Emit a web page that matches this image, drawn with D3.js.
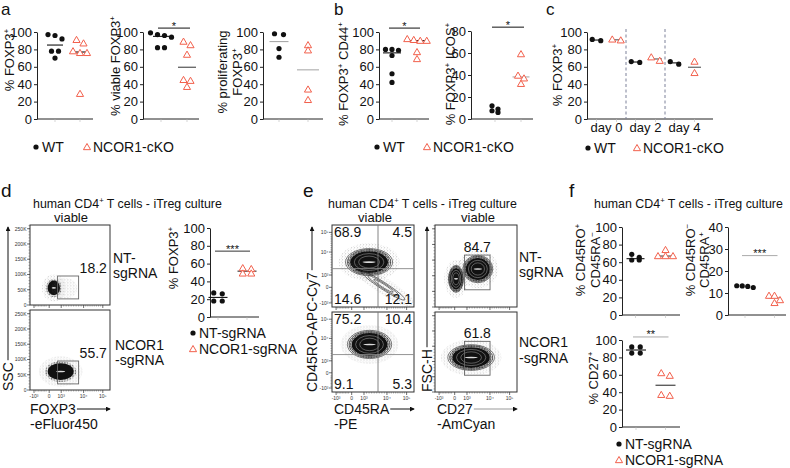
<!DOCTYPE html>
<html>
<head>
<meta charset="utf-8">
<script src="https://cdn.jsdelivr.net/npm/d3@7"></script>
<style>
  body { margin: 0; background: #fff; }
  svg { font-family: "Liberation Sans", Arial, sans-serif; }
</style>
</head>
<body>
<div id="chart"></div>
<script>
// ---------- data ----------
const mouseGroups = ["WT", "NCOR1-cKO"];
const humanGroups = ["NT-sgRNA", "NCOR1-sgRNA"];

// a
const foxp3WT = [97, 92, 96, 78, 78, 70];
const foxp3KO = [87, 91, 78, 76, 76, 29];
const viableWT = [99, 97, 96, 94, 82, 82];
const viableKO = [89, 85, 74, 45, 44, 37];
const prolifWT = [97, 98, 81, 71];
const prolifKO = [85, 79, 34, 22];
// b
const cd44WT = [80, 79, 80, 73, 52, 42];
const cd44KO = [91, 92, 90, 90, 77, 69];
const icosWT = [6, 9, 12, 7.5];
const icosKO = [59, 39.5, 37, 32];
// c
const days = ["day 0", "day 2", "day 4"];
const dayWT = [[90, 91.5], [65, 66], [63, 66]];
const dayKO = [[90.5, 91.5], [67, 71], [66, 53]];
// d
const hFoxp3NT = [26, 27, 18, 18];
const hFoxp3KO = [55, 54, 49, 49];
// f
const roPosNT = [62.5, 65.5, 69, 62.5];
const roPosKO = [67, 74, 67, 67];
const raPosNT = [12.5, 13.3, 13, 13.2];
const raPosKO = [8.8, 8.8, 5.5, 6.8];
const cd27NT = [92, 92, 85, 85];
const cd27KO = [59, 62, 36, 37];

// flow gates / percentages
const foxp3GatePct = [18.2, 55.7];
const quadPct = [[68.9, 4.5, 14.6, 12.1], [75.2, 10.4, 9.1, 5.3]];
const cd27GatePct = [84.7, 61.8];
const foxp3Gate = [700, 8000, 20000, 95000];      // FOXP3 lo/hi, SSC lo/hi
const cd45Split = [6500, 3500];                   // CD45RA, CD45RO quadrant split
const cd27Gate = [800, 10500, 55000, 166000];     // CD27 lo/hi, FSC lo/hi
// cell populations [xLo, xHi, yLo, yHi] in channel units
const foxp3Pops = [[[-100, 900, 32000, 80000], [700, 5000, 38000, 72000]], [[-100, 6000, 33000, 88000]]];
const cd45Pops = [[[-100, 15000, 1800, 14000], [840, 92000, -800, 2200]], [[0, 12000, 3000, 35000]]];
const cd27Pops = [[[900, 10000, 86000, 157000], [-300, 600, 55000, 125000]], [[-150, 10000, 79000, 147000]]];

const biexTicks = [-1000, 0, 1000, 1e4, 1e5];
const biexLabels = ["-10³", "0", "10³", "10⁴", "10⁵"];
const sscTicks = [0, 50000, 100000, 150000, 200000, 250000];
const sscLabels = ["0", "50K", "100K", "150K", "200K", "250K"];

// ---------- setup ----------
const FONT = '"Liberation Sans", Arial, sans-serif';
const koColor = "#f2604c";
const biexDomain = [-1300, -1000, 0, 1000, 1e4, 1e5, 262144];
const biexFrac = [0, 0.05, 0.24, 0.39, 0.67, 0.91, 1];

const svg = d3.select("#chart").append("svg").attr("width", 790).attr("height", 468);
const defs = svg.append("defs");

const sp1 = defs.append("pattern").attr("id", "speckle").attr("width", 3).attr("height", 3)
  .attr("patternUnits", "userSpaceOnUse");
sp1.append("circle").attr("cx", 0.7).attr("cy", 0.8).attr("r", 0.4).attr("fill", "#555");
sp1.append("circle").attr("cx", 2.2).attr("cy", 2.1).attr("r", 0.3).attr("fill", "#888");
const sp2 = defs.append("pattern").attr("id", "speckle2").attr("width", 1.6).attr("height", 1.6)
  .attr("patternUnits", "userSpaceOnUse");
sp2.append("circle").attr("cx", 0.5).attr("cy", 0.5).attr("r", 0.45).attr("fill", "#333");

defs.append("marker").attr("id", "arrow").attr("viewBox", "0 0 6 6").attr("refX", 5).attr("refY", 3)
  .attr("markerWidth", 5).attr("markerHeight", 5).attr("orient", "auto")
  .append("path").attr("d", "M0,0L6,3L0,6Z").attr("fill", "#111");

// text with ^{superscript} parts
function rich(t, str, fs) {
  const sh = fs * 0.38;
  let up = false;
  str.split(/(\^\{[^}]*\})/).forEach(s => {
    if (!s) return;
    if (s.startsWith("^{")) {
      t.append("tspan").attr("dy", -sh).attr("font-size", fs * 0.62).text(s.slice(2, -1));
      up = true;
    } else {
      t.append("tspan").attr("dy", up ? sh : 0).text(s);
      up = false;
    }
  });
  return t;
}

function text(x, y, str, fs, anchor) {
  const t = svg.append("text").attr("x", x).attr("y", y).attr("font-size", fs)
    .attr("fill", "#111").attr("text-anchor", anchor || "start");
  return rich(t, str, fs);
}

function dot(g, x, y) {
  g.append("circle").attr("cx", x).attr("cy", y).attr("r", 2.6).attr("fill", "#111");
}
function tri(g, x, y) {
  g.append("path").attr("d", d3.symbol(d3.symbolTriangle, 22)())
    .attr("transform", `translate(${x},${y + 0.6})`)
    .attr("fill", "#fff").attr("stroke", koColor).attr("stroke-width", 1);
}

// arrange points of one group in rows like a scatter dot plot
function swarm(vals, y, gap) {
  const pts = vals.map(v => ({ v, py: y(v) })).sort((a, b) => a.py - b.py);
  const rows = [];
  pts.forEach(p => {
    const r = rows[rows.length - 1];
    if (r && p.py - r[0].py < 4.6) r.push(p); else rows.push([p]);
  });
  rows.forEach(r => r.forEach((p, i) => { p.dx = (i - (r.length - 1) / 2) * gap; }));
  return pts;
}

function styleAxis(a) {
  a.attr("font-family", FONT);
  a.select(".domain").attr("stroke", "#222");
  a.selectAll(".tick line").attr("stroke", "#222");
  a.selectAll("text").attr("font-size", 13).attr("fill", "#111");
}

function yLabel(g, lines, xs, y) {
  lines.forEach((line, k) => {
    const t = g.append("text").attr("transform", `translate(${xs[k]},${y}) rotate(-90)`)
      .attr("text-anchor", "middle").attr("font-size", 13).attr("fill", "#111");
    rich(t, line, 13);
  });
}

function dotPlot(p) {
  const g = svg.append("g");
  const y = d3.scaleLinear().domain([0, p.max]).range([p.bottom, p.top]);
  const x = d3.scalePoint().domain(p.names).range([p.axisX + p.centers[0], p.axisX + p.centers[1]]);
  const ya = g.append("g").attr("transform", `translate(${p.axisX},0)`)
    .call(d3.axisLeft(y).tickValues(d3.range(0, p.max + 1, p.step)).tickSize(3).tickPadding(2).tickSizeOuter(0));
  styleAxis(ya);
  g.append("line").attr("x1", p.axisX).attr("x2", p.axisX + p.width)
    .attr("y1", p.bottom).attr("y2", p.bottom).attr("stroke", "#222");
  g.selectAll(".xt").data(p.names).join("line")
    .attr("x1", d => x(d)).attr("x2", d => x(d))
    .attr("y1", p.bottom).attr("y2", p.bottom + 3).attr("stroke", "#bbb").attr("stroke-width", 0.6);

  p.series.forEach((vals, i) => {
    const cx = x(p.names[i]);
    const my = y(d3.median(vals));
    g.append("line").attr("x1", cx - p.half[i]).attr("x2", cx + p.half[i])
      .attr("y1", my).attr("y2", my).attr("stroke", p.lineColor[i]).attr("stroke-width", 1.1);
    swarm(vals, y, p.gap).forEach(pt => (i === 0 ? dot : tri)(g, cx + pt.dx, pt.py));
  });

  yLabel(g, p.label, p.labelX, p.labelY);

  if (p.sig) {
    const sy = y(p.sig.value);
    const x1 = x(p.names[0]) - 3, x2 = x(p.names[1]) + 3;
    g.append("line").attr("x1", x1).attr("x2", x2).attr("y1", sy).attr("y2", sy)
      .attr("stroke", p.sig.color).attr("stroke-width", 1);
    g.append("text").attr("x", (x1 + x2) / 2).attr("y", sy + 1.5).attr("text-anchor", "middle")
      .attr("font-size", 11).attr("fill", "#111").text(p.sig.stars);
  }
}

function legend(x, y, x2, y2, names) {
  dot(svg, x, y);
  text(x + 6, y + 5, names[0], 14);
  tri(svg, x2, y2);
  text(x2 + 6, y2 + 5, names[1], 14);
}

// ---------- panel a ----------
text(1, 15, "a", 17);
dotPlot({ names: mouseGroups, series: [foxp3WT, foxp3KO], axisX: 37, top: 32, bottom: 119, width: 56, max: 100, step: 20,
  centers: [18, 43], gap: 7, half: [8, 8], lineColor: ["#111", "#111"],
  label: ["% FOXP3^{+}"], labelX: [13.5], labelY: 60 });
dotPlot({ names: mouseGroups, series: [viableWT, viableKO], axisX: 143, top: 32, bottom: 119, width: 56, max: 100, step: 20,
  centers: [18, 44], gap: 7, half: [8, 9], lineColor: ["#111", "#444"],
  label: ["% viable FOXP3^{+}"], labelX: [119.5], labelY: 66,
  sig: { value: 104.5, stars: "*", color: "#111" } });
dotPlot({ names: mouseGroups, series: [prolifWT, prolifKO], axisX: 263, top: 32, bottom: 119, width: 60, max: 100, step: 20,
  centers: [16, 45], gap: 9, half: [9.5, 11], lineColor: ["#aaa", "#aaa"],
  label: ["% proliferating", "FOXP3^{+}"], labelX: [226.5, 241.5], labelY: 72 });
legend(36, 147, 87, 147, mouseGroups);

// ---------- panel b ----------
text(334, 15, "b", 17);
dotPlot({ names: mouseGroups, series: [cd44WT, cd44KO], axisX: 379, top: 32, bottom: 119, width: 50, max: 100, step: 20,
  centers: [13, 38], gap: 6.5, half: [9, 9], lineColor: ["#111", "#111"],
  label: ["% FOXP3^{+} CD44^{+}"], labelX: [347.5], labelY: 74,
  sig: { value: 104.5, stars: "*", color: "#111" } });
dotPlot({ names: mouseGroups, series: [icosWT, icosKO], axisX: 471, top: 31, bottom: 119, width: 62, max: 80, step: 20,
  centers: [24, 50], gap: 6, half: [0, 8.5], lineColor: ["#111", "#aaa"],
  label: ["% FOXP3^{+} ICOS^{+}"], labelX: [455], labelY: 74,
  sig: { value: 83.5, stars: "*", color: "#111" } });
legend(377, 147, 427, 147, mouseGroups);

// ---------- panel c ----------
text(546, 15, "c", 17);
(function () {
  const g = svg.append("g");
  const axisX = 587, top = 32, bottom = 119;
  const y = d3.scaleLinear().domain([0, 100]).range([bottom, top]);
  const band = d3.scaleBand().domain(days).range([axisX, 704]);
  const ya = g.append("g").attr("transform", `translate(${axisX},0)`)
    .call(d3.axisLeft(y).tickValues(d3.range(0, 101, 20)).tickSize(3).tickPadding(2).tickSizeOuter(0));
  styleAxis(ya);
  g.append("line").attr("x1", axisX).attr("x2", 713).attr("y1", bottom).attr("y2", bottom).attr("stroke", "#222");
  days.slice(1).forEach(d => {
    g.append("line").attr("x1", band(d)).attr("x2", band(d)).attr("y1", 29).attr("y2", bottom)
      .attr("stroke", "#7d8199").attr("stroke-width", 1).attr("stroke-dasharray", "3,2.5");
  });
  days.forEach((d, i) => {
    const c = band(d) + band.bandwidth() / 2;
    g.append("text").attr("x", c).attr("y", 132).attr("text-anchor", "middle")
      .attr("font-size", 13).attr("fill", "#111").text(d);
    [dayWT[i], dayKO[i]].forEach((vals, k) => {
      const cx = c + (k === 0 ? -10 : 10);
      g.append("line").attr("x1", cx).attr("x2", cx).attr("y1", bottom).attr("y2", bottom + 3)
        .attr("stroke", "#bbb").attr("stroke-width", 0.6);
      const my = y(d3.median(vals));
      g.append("line").attr("x1", cx - 6.5).attr("x2", cx + 6.5).attr("y1", my).attr("y2", my)
        .attr("stroke", k === 0 ? "#111" : "#555").attr("stroke-width", 1.1);
      swarm(vals, y, 8.5).forEach(pt => (k === 0 ? dot : tri)(g, cx + pt.dx, pt.py));
    });
  });
  yLabel(g, ["% FOXP3^{+}"], [561.5], 75);
})();
legend(588, 148, 637, 148, mouseGroups);

// ---------- flow helpers ----------
let clipN = 0;
function biex(r0, r1) {
  return d3.scaleLinear().domain(biexDomain).range(biexFrac.map(f => r0 + f * (r1 - r0)));
}

function drawPop(g, sx, sy, e, shape, contours) {
  const x0 = sx(e[0]), x1 = sx(e[1]), y0 = sy(e[3]), y1 = sy(e[2]);
  const cx = (x0 + x1) / 2, cy = (y0 + y1) / 2;
  let rx = (x1 - x0) / 2, ry = (y1 - y0) / 2, ang = 0;
  if (shape === "diag") {
    ang = Math.atan2(y1 - y0, x1 - x0) * 180 / Math.PI;
    rx = Math.hypot(x1 - x0, y1 - y0) / 2;
    ry = 3.5;
  }
  const p = g.append("g").attr("transform", `translate(${cx},${cy}) rotate(${ang})`);
  p.append("ellipse").attr("rx", rx * 1.45 + 3).attr("ry", ry * 1.45 + 3).attr("fill", "url(#speckle)");
  if (shape === "haze") return;
  if (shape === "diag") {
    [1, 0.72, 0.45].forEach(k => p.append("ellipse").attr("rx", rx * k).attr("ry", ry * k)
      .attr("fill", "none").attr("stroke", "#333").attr("stroke-width", 0.6));
    return;
  }
  p.append("ellipse").attr("rx", rx * 1.12 + 1).attr("ry", ry * 1.12 + 1).attr("fill", "url(#speckle2)");
  if (contours) {
    [1.24, 1.14, 1.06].forEach(k => p.append("ellipse").attr("rx", rx * k).attr("ry", ry * k)
      .attr("fill", "none").attr("stroke", "#222").attr("stroke-width", 0.6));
  }
  p.append("ellipse").attr("rx", rx).attr("ry", ry).attr("fill", "#111");
  if (contours) {
    [0.78, 0.55].forEach(k => p.append("ellipse").attr("rx", rx * k).attr("ry", ry * k)
      .attr("fill", "none").attr("stroke", "#fff").attr("stroke-width", 0.45).attr("opacity", 0.7));
  }
  p.append("ellipse").attr("rx", rx * 0.35).attr("ry", 0.8).attr("fill", "#fff").attr("opacity", 0.85);
}

function flowPlot(p) {
  const g = svg.append("g");
  const sx = biex(p.x, p.x + p.w);
  const sy = p.yLinear ? d3.scaleLinear().domain([0, 262144]).range([p.y + p.h, p.y]) : biex(p.y + p.h, p.y);
  const id = "clip" + (clipN++);
  defs.append("clipPath").attr("id", id).append("rect")
    .attr("x", p.x).attr("y", p.y).attr("width", p.w).attr("height", p.h);
  const inner = g.append("g").attr("clip-path", `url(#${id})`);
  p.pops.forEach((e, k) => drawPop(inner, sx, sy, e, p.shapes ? p.shapes[k] : "blob", p.contours));

  g.append("rect").attr("x", p.x).attr("y", p.y).attr("width", p.w).attr("height", p.h)
    .attr("fill", "none").attr("stroke", "#333").attr("stroke-width", 1);

  // ticks
  const xMinor = [2, 3, 4, 5, 6, 7, 8, 9].flatMap(m => [m * 1e3, m * 1e4, -m * 100]);
  xMinor.forEach(v => g.append("line").attr("x1", sx(v)).attr("x2", sx(v))
    .attr("y1", p.y + p.h).attr("y2", p.y + p.h + 1.5).attr("stroke", "#555").attr("stroke-width", 0.5));
  biexTicks.forEach((v, i) => {
    g.append("line").attr("x1", sx(v)).attr("x2", sx(v)).attr("y1", p.y + p.h).attr("y2", p.y + p.h + 3)
      .attr("stroke", "#333").attr("stroke-width", 0.7);
    if (p.xLabels) g.append("text").attr("x", sx(v)).attr("y", p.y + p.h + 7.5).attr("text-anchor", "middle")
      .attr("font-size", 5).attr("fill", "#333").text(biexLabels[i]);
  });
  const yt = p.yLinear ? sscTicks : biexTicks;
  const yl = p.yLinear ? sscLabels : biexLabels;
  const yMinor = p.yLinear ? d3.range(10000, 262144, 10000) : xMinor;
  yMinor.forEach(v => g.append("line").attr("x1", p.x).attr("x2", p.x - 1.5)
    .attr("y1", sy(v)).attr("y2", sy(v)).attr("stroke", "#555").attr("stroke-width", 0.5));
  yt.forEach((v, i) => {
    g.append("line").attr("x1", p.x).attr("x2", p.x - 3).attr("y1", sy(v)).attr("y2", sy(v))
      .attr("stroke", "#333").attr("stroke-width", 0.7);
    if (p.yLabels) g.append("text").attr("x", p.x - 3.5).attr("y", sy(v) + 2).attr("text-anchor", "end")
      .attr("font-size", 5).attr("fill", "#333").text(yl[i]);
  });

  if (p.gate) {
    const gx0 = sx(p.gate[0]), gx1 = sx(p.gate[1]), gy0 = sy(p.gate[3]), gy1 = sy(p.gate[2]);
    g.append("rect").attr("x", gx0).attr("y", gy0).attr("width", gx1 - gx0).attr("height", gy1 - gy0)
      .attr("fill", "none").attr("stroke", "#666").attr("stroke-width", 0.9);
    if (p.gateLabel === "right") {
      g.append("text").attr("x", gx1 + 1).attr("y", gy0 - 3).attr("font-size", 14).attr("fill", "#111").text(p.pct);
    } else {
      g.append("text").attr("x", (gx0 + gx1) / 2).attr("y", gy0 - 3).attr("text-anchor", "middle")
        .attr("font-size", 14).attr("fill", "#111").text(p.pct);
    }
  }
  if (p.quad) {
    const qx = sx(p.quad[0]), qy = sy(p.quad[1]);
    g.append("line").attr("x1", qx).attr("x2", qx).attr("y1", p.y).attr("y2", p.y + p.h).attr("stroke", "#777").attr("stroke-width", 0.9);
    g.append("line").attr("x1", p.x).attr("x2", p.x + p.w).attr("y1", qy).attr("y2", qy).attr("stroke", "#888").attr("stroke-width", 0.9);
    const fs = 14;
    g.append("text").attr("x", p.x + 2).attr("y", p.y + 12).attr("font-size", fs).attr("fill", "#111").text(p.pct[0]);
    g.append("text").attr("x", p.x + p.w - 2).attr("y", p.y + 12).attr("text-anchor", "end").attr("font-size", fs).attr("fill", "#111").text(p.pct[1]);
    g.append("text").attr("x", p.x + 2).attr("y", p.y + p.h - 3).attr("font-size", fs).attr("fill", "#111").text(p.pct[2]);
    g.append("text").attr("x", p.x + p.w - 2).attr("y", p.y + p.h - 3).attr("text-anchor", "end").attr("font-size", fs).attr("fill", "#111").text(p.pct[3]);
  }
}

function xTitle(x, xEnd, y, l1, l2, gray) {
  const t = svg.append("text").attr("x", x).attr("y", y).attr("font-size", 14).attr("fill", "#111").text(l1);
  const w = t.node().getComputedTextLength();
  svg.append("line").attr("x1", x + w + 1).attr("x2", xEnd).attr("y1", y - 5).attr("y2", y - 5)
    .attr("stroke", gray ? "#999" : "#111").attr("stroke-width", 1).attr("marker-end", "url(#arrow)");
  svg.append("text").attr("x", x).attr("y", y + 15).attr("font-size", 14).attr("fill", "#111").text(l2);
}
function yTitle(x, yStart, yEnd, label) {
  const t = svg.append("text").attr("transform", `translate(${x + 4.8},${yStart}) rotate(-90)`)
    .attr("font-size", 14).attr("fill", "#111").text(label);
  const w = t.node().getComputedTextLength();
  svg.append("line").attr("x1", x).attr("x2", x).attr("y1", yStart - w - 2).attr("y2", yEnd)
    .attr("stroke", "#111").attr("stroke-width", 1).attr("marker-end", "url(#arrow)");
}

const titleText = "human CD4^{+} T cells - iTreg culture";

// ---------- panel d ----------
text(1, 197, "d", 19);
text(33, 208, titleText, 12.4);
text(71, 222, "viable", 13, "middle");
[0, 1].forEach(i => flowPlot({ x: 30, y: i ? 310 : 225, w: 80, h: 80, yLinear: true, yLabels: true, xLabels: i === 1,
  pops: foxp3Pops[i], shapes: i ? ["blob"] : ["blob", "haze"], contours: false,
  gate: foxp3Gate, gateLabel: "right", pct: foxp3GatePct[i] }));
yTitle(8, 391, 227, "SSC");
xTitle(30, 110, 414, "FOXP3", "-eFluor450");
text(113, 263, "NT-", 14); text(113, 278, "sgRNA", 14);
text(115, 350, "NCOR1", 14); text(115, 365, "-sgRNA", 14);
dotPlot({ names: humanGroups, series: [hFoxp3NT, hFoxp3KO], axisX: 210, top: 228, bottom: 317, width: 49, max: 100, step: 20,
  centers: [8, 37], gap: 8.5, half: [9.5, 9.5], lineColor: ["#111", "#333"],
  label: ["% FOXP3^{+}"], labelX: [177.5], labelY: 258,
  sig: { value: 74, stars: "***", color: "#333" } });
legend(193, 333, 193, 349, humanGroups);

// ---------- panel e ----------
text(303, 197, "e", 19);
text(328, 208, titleText, 12.4);
text(375, 222, "viable", 13, "middle");
text(478, 222, "viable", 13, "middle");
[0, 1].forEach(i => flowPlot({ x: 332, y: i ? 312 : 225, w: 82, h: i ? 80 : 82, yLinear: false, yLabels: true, xLabels: i === 1,
  pops: cd45Pops[i], shapes: i ? ["blob"] : ["blob", "diag"], contours: true, quad: cd45Split, pct: quadPct[i] }));
[0, 1].forEach(i => flowPlot({ x: 435, y: i ? 312 : 225, w: 82, h: i ? 80 : 82, yLinear: true, yLabels: false, xLabels: i === 1,
  pops: cd27Pops[i], contours: true, gate: cd27Gate, gateLabel: "top", pct: cd27GatePct[i] }));
yTitle(312, 392, 227, "CD45RO-APC-Cy7");
yTitle(427, 392, 227, "FSC-H");
xTitle(334, 414, 414, "CD45RA", "-PE");
xTitle(437, 517, 414, "CD27", "-AmCyan", true);
text(519, 262, "NT-", 14); text(519, 277, "sgRNA", 14);
text(519, 347, "NCOR1", 14); text(519, 363, "-sgRNA", 14);

// ---------- panel f ----------
text(569, 197, "f", 19);
text(594, 208, titleText, 12.4);
dotPlot({ names: humanGroups, series: [roPosNT, roPosKO], axisX: 622, top: 227, bottom: 315, width: 58, max: 100, step: 20,
  centers: [13.5, 43.5], gap: 7.5, half: [9, 9], lineColor: ["#111", "#444"],
  label: ["% CD45RO^{+}", "CD45RA^{−}"], labelX: [584.5, 600], labelY: 260 });
dotPlot({ names: humanGroups, series: [raPosNT, raPosKO], axisX: 728, top: 227, bottom: 315, width: 58, max: 40, step: 10,
  centers: [17, 46.5], gap: 5.5, half: [0, 6], lineColor: ["#111", "#999"],
  label: ["% CD45RO^{−}", "CD45RA^{+}"], labelX: [694.5, 709], labelY: 260,
  sig: { value: 27, stars: "***", color: "#aaa" } });
dotPlot({ names: humanGroups, series: [cd27NT, cd27KO], axisX: 622, top: 340, bottom: 427, width: 58, max: 100, step: 20,
  centers: [14, 43.5], gap: 8.5, half: [10, 10], lineColor: ["#111", "#333"],
  label: ["% CD27^{+}"], labelX: [597.5], labelY: 378,
  sig: { value: 103.5, stars: "**", color: "#aaa" } });
legend(619, 444, 619, 460, humanGroups);
</script>
</body>
</html>
